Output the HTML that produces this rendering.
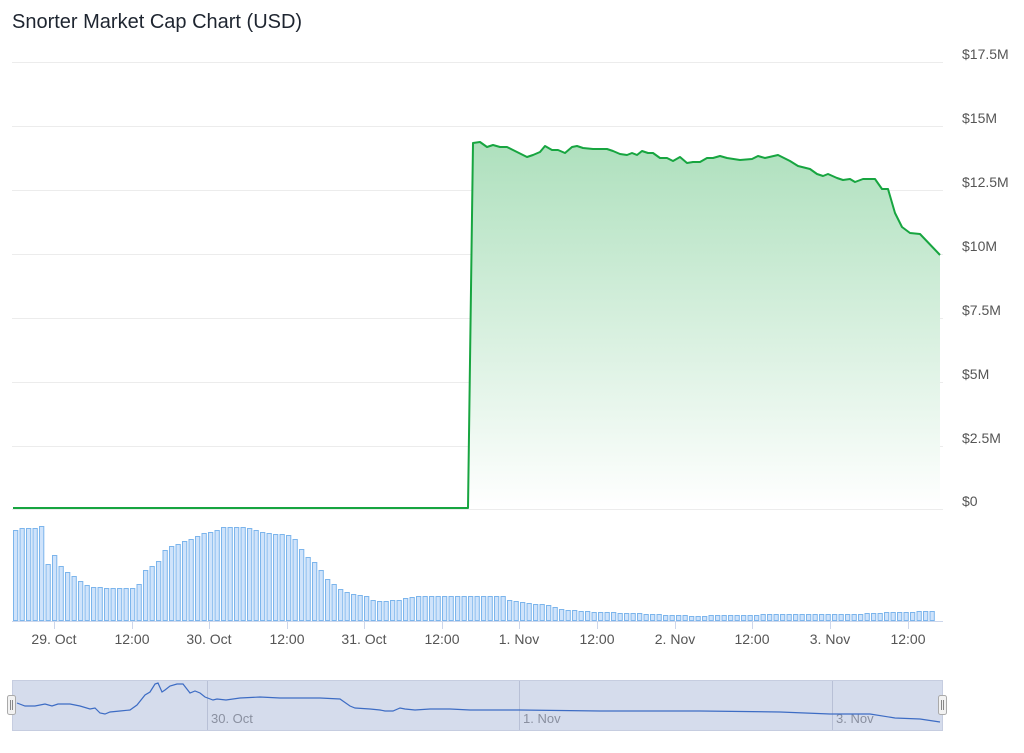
<!DOCTYPE html>
<html><head><meta charset="utf-8"><style>
body{margin:0;background:#fff;font-family:"Liberation Sans",sans-serif}
</style></head><body>
<svg id="s" width="1024" height="748" xmlns="http://www.w3.org/2000/svg" font-family="Liberation Sans, sans-serif">
<defs>
<linearGradient id="g" x1="0" y1="142" x2="0" y2="509" gradientUnits="userSpaceOnUse">
<stop offset="0" stop-color="#aee0bd"/><stop offset="1" stop-color="#ffffff"/>
</linearGradient>
</defs>
<text x="12" y="28" font-size="20" fill="#1e2530">Snorter Market Cap Chart (USD)</text>
<g stroke="#ececec" stroke-width="1">
<line x1="12" x2="943" y1="62.5" y2="62.5"/><line x1="12" x2="943" y1="126.5" y2="126.5"/>
<line x1="12" x2="943" y1="190.5" y2="190.5"/><line x1="12" x2="943" y1="254.5" y2="254.5"/>
<line x1="12" x2="943" y1="318.5" y2="318.5"/><line x1="12" x2="943" y1="382.5" y2="382.5"/>
<line x1="12" x2="943" y1="446.5" y2="446.5"/><line x1="12" x2="943" y1="509.5" y2="509.5"/>
</g>
<g font-size="14" fill="#555">
<text x="962" y="59">$17.5M</text><text x="962" y="123">$15M</text><text x="962" y="187">$12.5M</text>
<text x="962" y="251">$10M</text><text x="962" y="315">$7.5M</text><text x="962" y="379">$5M</text>
<text x="962" y="443">$2.5M</text><text x="962" y="506">$0</text>
</g>
<g id="bars"></g>
<line x1="12" x2="943" y1="621.5" y2="621.5" stroke="#ccd6eb"/>
<g id="ticks" stroke="#ccd6eb"></g>
<g font-size="14" fill="#555" text-anchor="middle" id="xl"></g>
<path fill="url(#g)" d="M468,509 L473,143 L480,142 L487,147 L493,145 L500,147 L507,147 L513,150 L527,157 L533,155 L540,152 L545,146 L552,150 L558,150 L565,153 L572,147 L577,146 L583,148 L593,149 L607,149 L613,151 L620,154 L627,155 L632,153 L637,155 L642,151 L648,153 L653,153 L660,158 L667,158 L673,161 L680,157 L687,163 L693,162 L700,162 L707,158 L713,158 L720,156 L727,158 L740,160 L752,159 L758,156 L765,158 L778,155 L790,161 L798,166 L810,169 L817,174 L823,176 L828,174 L837,178 L843,180 L850,179 L855,182 L863,179 L875,179 L882,189 L888,189 L895,213 L902,227 L910,233 L920,234 L940,255 L940,509 Z"/>
<path fill="none" stroke="#17a540" stroke-width="2" stroke-linejoin="round" d="M13,508 L468,508 L473,143 L480,142 L487,147 L493,145 L500,147 L507,147 L513,150 L527,157 L533,155 L540,152 L545,146 L552,150 L558,150 L565,153 L572,147 L577,146 L583,148 L593,149 L607,149 L613,151 L620,154 L627,155 L632,153 L637,155 L642,151 L648,153 L653,153 L660,158 L667,158 L673,161 L680,157 L687,163 L693,162 L700,162 L707,158 L713,158 L720,156 L727,158 L740,160 L752,159 L758,156 L765,158 L778,155 L790,161 L798,166 L810,169 L817,174 L823,176 L828,174 L837,178 L843,180 L850,179 L855,182 L863,179 L875,179 L882,189 L888,189 L895,213 L902,227 L910,233 L920,234 L940,255"/>
<rect x="12.5" y="680.5" width="930" height="50" fill="#d5dcec" stroke="#c6cde0"/>
<g stroke="#b8c0d6"><line x1="207.5" x2="207.5" y1="681" y2="730"/><line x1="519.5" x2="519.5" y1="681" y2="730"/><line x1="832.5" x2="832.5" y1="681" y2="730"/></g>
<g font-size="13" fill="#8a90a0"><text x="211" y="723">30. Oct</text><text x="523" y="723">1. Nov</text><text x="836" y="723">3. Nov</text></g>
<path id="nav" fill="none" stroke="#3d6cc4" stroke-width="1.2"/>
<rect x="7.5" y="695.5" width="8" height="19" rx="2" fill="#f2f2f2" stroke="#aaa"/>
<rect x="938.5" y="695.5" width="8" height="19" rx="2" fill="#f2f2f2" stroke="#aaa"/>
<g stroke="#888"><line x1="10.5" x2="10.5" y1="700" y2="710"/><line x1="12.5" x2="12.5" y1="700" y2="710"/><line x1="941.5" x2="941.5" y1="700" y2="710"/><line x1="943.5" x2="943.5" y1="700" y2="710"/></g>
</svg>
<script>
function interp(pts,x){for(var i=0;i<pts.length-1;i++){if(x>=pts[i][0]&&x<=pts[i+1][0]){var t=(x-pts[i][0])/(pts[i+1][0]-pts[i][0]);return pts[i][1]+t*(pts[i+1][1]-pts[i][1]);}}return pts[pts.length-1][1];}
var bp=[[13,530],[17,528],[24,528],[30,528],[36,527],[40,526],[45,565],[52,555],[58,565],[64,572],[70,574],[76,580],[83,585],[90,587],[110,588],[130,588],[136,585],[143,570],[150,566],[156,561],[163,549],[170,546],[176,544],[183,541],[190,538],[196,535],[203,533],[210,531],[216,529],[222,527],[236,527],[250,528],[256,531],[263,532],[270,534],[290,535],[296,544],[303,555],[310,560],[316,566],[323,578],[330,583],[336,588],[343,592],[350,594],[363,595],[370,600],[380,601],[395,600],[405,597],[420,596],[500,596],[505,600],[520,602],[545,605],[555,608],[565,610],[600,612],[650,614],[700,616],[710,615],[800,614],[850,614],[895,612],[930,611]];
var h="";
for(var x=13;x<=930;x+=6.5){var t=Math.round(interp(bp,x));h+='<rect x="'+(x+0.5).toFixed(1)+'" y="'+(t+0.5)+'" width="4.3" height="'+(620-t)+'" fill="#cfe3fb" stroke="#7cb5ec" stroke-width="1"/>';}
document.getElementById("bars").innerHTML=h;
var lab=[[54,"29. Oct"],[132,"12:00"],[209,"30. Oct"],[287,"12:00"],[364,"31. Oct"],[442,"12:00"],[519,"1. Nov"],[597,"12:00"],[675,"2. Nov"],[752,"12:00"],[830,"3. Nov"],[908,"12:00"]];
var tk="",xl="";lab.forEach(function(l){tk+='<line x1="'+(l[0]+0.5)+'" x2="'+(l[0]+0.5)+'" y1="622" y2="629"/>';xl+='<text x="'+l[0]+'" y="644">'+l[1]+'</text>';});
document.getElementById("ticks").innerHTML=tk;document.getElementById("xl").innerHTML=xl;
var np=[[17,703],[25,706],[35,706],[45,704],[52,706],[58,704],[70,704],[80,706],[90,709],[95,708],[100,713],[105,714],[110,712],[120,711],[130,710],[137,705],[145,695],[150,692],[155,684],[158,683],[162,692],[165,690],[170,686],[177,684],[183,684],[190,693],[195,691],[200,693],[205,697],[213,700],[217,699],[226,700],[240,698],[260,697],[280,698],[300,698],[320,698],[340,699],[350,706],[355,708],[370,709],[380,710],[385,711],[393,711],[400,708],[405,709],[415,710],[430,709],[450,709],[470,710],[520,710],[600,711],[700,711],[780,712],[830,714],[870,714],[895,718],[920,719],[940,722]];
document.getElementById("nav").setAttribute("d","M"+np.map(function(p){return p[0]+","+p[1];}).join(" L"));
</script>
</body></html>
